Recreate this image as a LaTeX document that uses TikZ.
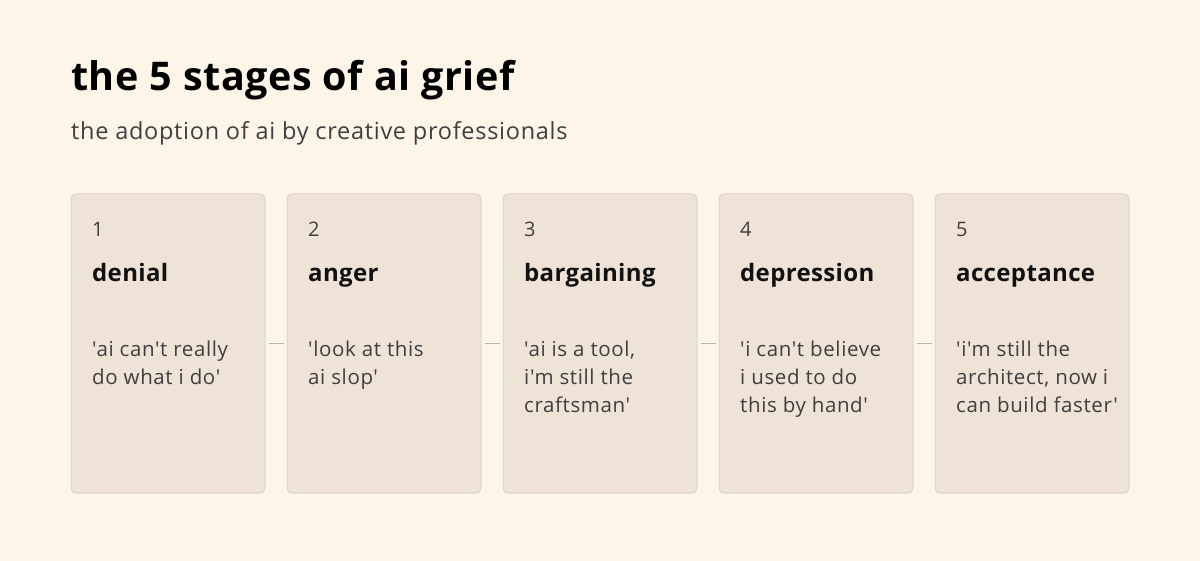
\documentclass[tikz,border=0pt]{standalone}
\usepackage{fontspec}
\newfontfamily\ui{Open Sans}[LetterSpace=3]
\newfontfamily\uib{Open Sans}[LetterSpace=1.5]
\definecolor{bg}{HTML}{FCF5E8}
\definecolor{boxfill}{HTML}{EEE3D6}
\definecolor{boxline}{HTML}{DFD5C7}
\definecolor{conncol}{HTML}{BDB5AB}
\definecolor{txt}{HTML}{3F3F3F}
\definecolor{head}{HTML}{111111}
\tikzset{
  stagebox/.style={draw=boxline, line width=1pt, fill=boxfill, rounded corners=5pt,
    minimum width=194pt, minimum height=299pt, inner sep=0pt},
  conn/.style={draw=conncol, line width=1.4pt},
  numtxt/.style={anchor=base west, inner sep=0pt, text=txt, font=\ui\fontsize{20}{24}\selectfont},
  headtxt/.style={anchor=base west, inner sep=0pt, text=head, font=\uib\fontsize{24}{28}\selectfont\bfseries},
  quotetxt/.style={anchor=base west, inner sep=0pt, text=txt, font=\ui\fontsize{20.5}{28}\selectfont},
}
\newcommand{\qlines}[1]{\begin{tabular}[t]{@{}l@{}}#1\end{tabular}}
\begin{document}
\begin{tikzpicture}[x=1pt,y=-1pt]
\fill[bg] (0,0) rectangle (1200,561);
\useasboundingbox (0,0) rectangle (1200,561);
\node[anchor=base west, inner sep=0pt, text=black, font=\uib\fontsize{39.5}{46}\selectfont\bfseries] (title) at (71,91) {the 5 stages of ai grief};
\node[anchor=base west, inner sep=0pt, text=txt, font=\ui\fontsize{23.5}{28}\selectfont] (sub) at (71,140) {the adoption of ai by creative professionals};
\foreach \i/\n/\h/\q in {1/1/denial/{'ai can't really\\do what i do'},
  2/2/anger/{'look at this\\ai slop'},
  3/3/bargaining/{'ai is a tool,\\i'm still the\\craftsman'},
  4/4/depression/{'i can't believe\\i used to do\\this by hand'},
  5/5/acceptance/{'i'm still the\\architect, now i\\can build faster'}}{
  \pgfmathsetmacro{\cx}{168+216*(\i-1)}
  \node[stagebox] (b\i) at (\cx,343.5) {};
  \node[numtxt] (n\i) at (\cx-76,237) {\n};
  \node[headtxt] (h\i) at (\cx-76,282) {\h};
  \node[quotetxt] (q\i) at (\cx-76,357) {\qlines{\q}};
}
\foreach \a/\b in {1/2,2/3,3/4,4/5}{
  \draw[conn] ([xshift=3pt]b\a.east) -- ([xshift=-3pt]b\b.west);
}
\end{tikzpicture}
\end{document}
